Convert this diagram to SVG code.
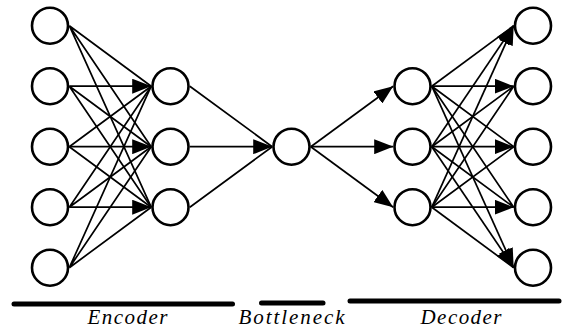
<svg xmlns="http://www.w3.org/2000/svg" width="573" height="329" viewBox="0 0 573 329">
<defs>
<style>
.node{fill:#fff;stroke:#000;stroke-width:2.6}
.e{stroke:#000;stroke-width:1.7;fill:none}
.a{marker-end:url(#arr)}
.bar{stroke:#000;stroke-width:5;stroke-linecap:round}
.lbl{font-family:"Liberation Serif","Times New Roman",serif;font-style:italic;font-size:21px;fill:#000;text-anchor:middle}
</style>
<marker id="arr" viewBox="0 0 19 15" refX="19" refY="7.5" markerWidth="19" markerHeight="15" markerUnits="userSpaceOnUse" orient="auto">
<path d="M19,7.5 L0,0 L0,15 Z" fill="#000"/>
</marker>
</defs>
<rect width="573" height="329" fill="#fff"/>
<g id="connectors">
<path class="e" d="M69.3,25.7L151.2,86.2M69.3,25.7L151.2,146.7M69.3,25.7L151.2,207.2"/>
<path class="e a" d="M69.3,86.2L151.2,86.2"/>
<path class="e" d="M69.3,86.2L151.2,146.7M69.3,86.2L151.2,207.2"/>
<path class="e" d="M69.3,146.7L151.2,86.2M69.3,146.7L151.2,207.2"/>
<path class="e a" d="M69.3,146.7L151.2,146.7"/>
<path class="e" d="M69.3,207.2L151.2,86.2M69.3,207.2L151.2,146.7"/>
<path class="e a" d="M69.3,207.2L151.2,207.2"/>
<path class="e" d="M69.3,267.7L151.2,86.2M69.3,267.7L151.2,146.7M69.3,267.7L151.2,207.2"/>
<path class="e" d="M189.8,86.2L272.2,146.7M189.8,207.2L272.2,146.7"/>
<path class="e a" d="M189.8,146.7L272.2,146.7"/>
<path class="e a" d="M310.8,146.7L393.2,86.2"/>
<path class="e a" d="M310.8,146.7L393.2,146.7"/>
<path class="e a" d="M310.8,146.7L393.2,207.2"/>
<path class="e" d="M431.8,86.2L513.7,25.7"/>
<path class="e a" d="M431.8,146.7L513.7,25.7"/>
<path class="e a" d="M431.8,207.2L513.7,25.7"/>
<path class="e a" d="M431.8,86.2L513.7,86.2"/>
<path class="e" d="M431.8,146.7L513.7,86.2M431.8,207.2L513.7,86.2"/>
<path class="e" d="M431.8,86.2L513.7,146.7M431.8,207.2L513.7,146.7"/>
<path class="e a" d="M431.8,146.7L513.7,146.7"/>
<path class="e" d="M431.8,86.2L513.7,207.2M431.8,146.7L513.7,207.2"/>
<path class="e a" d="M431.8,207.2L513.7,207.2"/>
<path class="e" d="M431.8,207.2L513.7,267.7"/>
<path class="e a" d="M431.8,146.7L513.7,267.7"/>
<path class="e a" d="M431.8,86.2L513.7,267.7"/>
</g>
<g id="input-layer">
<circle id="in1" class="node" cx="50" cy="25.7" r="18"/>
<circle id="in2" class="node" cx="50" cy="86.2" r="18"/>
<circle id="in3" class="node" cx="50" cy="146.7" r="18"/>
<circle id="in4" class="node" cx="50" cy="207.2" r="18"/>
<circle id="in5" class="node" cx="50" cy="267.7" r="18"/>
</g>
<g id="encoder-hidden">
<circle id="eh1" class="node" cx="170.5" cy="86.2" r="18"/>
<circle id="eh2" class="node" cx="170.5" cy="146.7" r="18"/>
<circle id="eh3" class="node" cx="170.5" cy="207.2" r="18"/>
</g>
<g id="bottleneck-node">
<circle id="bn" class="node" cx="291.5" cy="146.7" r="18"/>
</g>
<g id="decoder-hidden">
<circle id="dh1" class="node" cx="412.5" cy="86.2" r="18"/>
<circle id="dh2" class="node" cx="412.5" cy="146.7" r="18"/>
<circle id="dh3" class="node" cx="412.5" cy="207.2" r="18"/>
</g>
<g id="output-layer">
<circle id="out1" class="node" cx="533" cy="25.7" r="18"/>
<circle id="out2" class="node" cx="533" cy="86.2" r="18"/>
<circle id="out3" class="node" cx="533" cy="146.7" r="18"/>
<circle id="out4" class="node" cx="533" cy="207.2" r="18"/>
<circle id="out5" class="node" cx="533" cy="267.7" r="18"/>
</g>
<g id="encoder-label">
<line class="bar" x1="14" y1="304" x2="232.5" y2="304"/>
<text class="lbl" x="127.5" y="324" textLength="80" lengthAdjust="spacing">Encoder</text>
</g>
<g id="bottleneck-label">
<line class="bar" x1="261.5" y1="303" x2="323" y2="303"/>
<text class="lbl" x="291.5" y="324" textLength="106" lengthAdjust="spacing">Bottleneck</text>
</g>
<g id="decoder-label">
<line class="bar" x1="350" y1="301" x2="559" y2="301"/>
<text class="lbl" x="461" y="324" textLength="81" lengthAdjust="spacing">Decoder</text>
</g>
</svg>
